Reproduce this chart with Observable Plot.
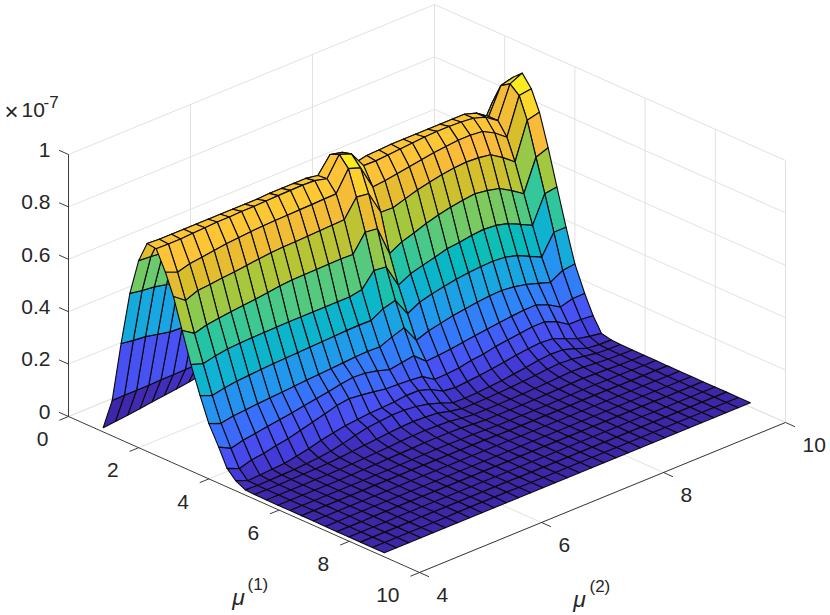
<!DOCTYPE html>
<html>
<head>
<meta charset="utf-8">
<script src="https://cdn.jsdelivr.net/npm/d3@7"></script>
<script src="https://cdn.jsdelivr.net/npm/@observablehq/plot@0.6"></script>
<style>
html,body{margin:0;padding:0;background:#fff}
svg{display:block}
</style>
</head>
<body>
<div id="chart"></div>
<script>
// Surface sample positions
const mu1 = [.85,1.105,1.36,1.61,1.86,2.10,2.36,2.62,2.85,3.10,3.35,3.61,3.86,4.14,4.38,4.62,4.90,5.16,5.5,5.83,6.17,6.5,6.84,7.18,7.51,7.85,8.18,8.52,8.86];
const mu2 = [4.08,4.28,4.48,4.68,4.88,5.08,5.28,5.48,5.68,5.88,6.08,6.28,6.48,6.68,6.88,7.08,7.28,7.48,7.68,7.88,8.08,8.28,8.48,8.68,8.88,9.08,9.28,9.48,9.68,9.88,10.08];
// Height in units of 1e-10; one line per mu2 value, one column per mu1 value
const heights = [
[0,119,352,558,698,778,773,700,620,505,390,287,195,122,55,23,4,2,1,1,1,1,1,0,0,0,0,0,0],
[5,120,345,550,695,775,772,680,586,475,374,268,177,98,35,3,2,1,1,1,1,1,1,0,0,0,0,0,0],
[10,120,340,545,690,775,772,693,605,488,385,278,186,110,49,6,3,1,1,1,1,1,1,1,0,0,0,0,0],
[15,120,330,535,685,775,775,699,609,495,392,285,190,117,55,9,4,2,1,1,1,1,1,1,1,0,0,0,0],
[22,122,320,525,680,775,777,706,614,500,395,288,194,124,65,12,5,3,2,1,1,1,1,1,1,1,0,0,0],
[28,122,317,520,680,775,780,712,618,505,397,291,197,131,73,20,8,4,2,1,1,1,1,1,1,1,1,0,0],
[33,123,317,520,680,775,780,716,624,510,398,294,200,138,85,30,12,6,3,2,1,2,1,1,1,1,1,0,0],
[40,124,317,520,680,775,782,720,630,516,399,296,204,146,98,42,18,9,5,3,2,2,1,1,1,1,1,1,0],
[48,125,318,520,680,775,782,723,634,522,400,298,208,154,110,52,28,13,7,4,2,2,2,1,1,1,1,1,0],
[50,125,320,520,680,775,784,725,637,526,400,300,211,162,123,60,40,18,10,6,3,3,2,1,1,1,1,1,0],
[50,125,320,520,680,778,785,726,638,527,400,302,214,171,130,65,50,22,12,7,4,3,2,1,1,1,1,1,0],
[50,125,320,520,680,778,786,727,640,528,400,304,217,178,125,70,55,27,15,8,5,3,2,1,1,1,1,1,0],
[50,125,320,520,680,778,787,728,642,529,400,306,220,175,118,72,60,30,17,10,6,3,2,1,1,1,1,0,0],
[50,125,320,520,680,778,785,730,644,530,400,307,222,165,110,75,60,32,18,10,6,3,2,1,1,1,0,0,0],
[50,125,325,525,690,770,773,731,646,528,408,306,220,150,108,80,55,30,17,10,5,3,2,1,1,1,0,0,0],
[50,130,350,580,750,831,847,808,713,594,463,332,239,158,105,80,45,26,15,9,5,3,2,1,1,1,0,0,0],
[45,128,345,570,745,820,830,792,707,588,457,345,255,165,100,65,30,14,8,5,3,2,2,1,1,1,0,0,0],
[45,125,320,520,680,760,766,700,617,474,368,275,188,125,70,40,12,5,3,2,1,1,1,1,1,1,0,0,0],
[45,125,320,520,685,770,765,705,615,500,393,300,205,128,72,34,10,5,3,2,1,1,1,1,1,1,0,0,0],
[45,125,320,520,685,772,768,712,630,515,406,312,215,133,76,38,12,6,3,2,1,1,1,1,1,1,0,0,0],
[45,125,320,520,685,775,772,720,645,532,418,322,225,140,85,42,16,8,4,2,1,1,1,1,1,1,0,0,0],
[45,125,320,520,685,775,776,728,655,545,431,330,232,146,90,48,20,10,5,3,1,1,1,1,1,1,0,0,0],
[45,125,320,520,685,775,780,735,665,556,436,336,238,152,100,55,26,13,7,4,2,1,1,1,1,1,0,0,0],
[45,125,320,520,685,775,782,740,672,563,444,340,243,158,106,62,32,17,9,5,3,2,1,1,1,1,0,0,0],
[45,125,320,520,685,775,782,745,675,569,448,342,245,163,112,68,40,22,12,7,4,2,1,1,1,1,0,0,0],
[40,125,320,520,685,775,780,745,672,562,444,338,240,167,118,72,44,25,14,8,4,2,1,1,1,0,0,0,0],
[40,125,320,520,685,775,775,740,665,551,432,325,230,168,118,68,42,22,12,6,3,1,1,1,1,0,0,0,0],
[35,125,320,520,680,760,760,715,635,524,410,303,215,150,100,50,28,14,8,4,3,1,1,1,0,0,0,0,0],
[30,125,320,510,660,728,728,680,599,493,387,281,200,122,70,30,10,6,4,2,2,1,1,0,0,0,0,0,0],
[25,135,370,600,750,827,849,820,739,613,489,357,226,135,70,20,5,3,2,1,1,1,0,0,0,0,0,0,0],
[20,140,380,610,755,840,871,827,751,630,495,357,232,136,65,12,4,2,1,1,1,0,0,0,0,0,0,0,0]
];
// Axis ticks
const ticksMu1 = [0,2,4,6,8,10];
const ticksMu2 = [4,6,8,10];
const ticksZ = [0,.2,.4,.6,.8,1];
// Parula colour stops
const parula = ["#3e26a8","#453dde","#4852f4","#3a6efc","#2d87f7","#1e9ee8","#12b1d6","#05bbbd","#37c897","#75ca63","#abc739","#dcbd2a","#fdbb3c","#fbd02f","#f9fb14"];
const ink = "#262626", gridInk = "#e2e2e2", font = "Liberation Sans";

// Orthographic view of the box
const view = {u1:[35.1,15.6], u2:[61,-25], uz:262, o:[68,416]};
const px = (a,b) => view.o[0] + view.u1[0]*a + view.u2[0]*(b-4);
const py = (a,b,c) => view.o[1] + view.u1[1]*a + view.u2[1]*(b-4) - view.uz*c;
const seg = (p,q) => ({x1:px(...p),y1:py(...p),x2:px(...q),y2:py(...q)});

// Faces, far to near, so near ones paint over far ones
const faces = [];
mu1.slice(0,-1).forEach((_,i) => {
  for (let j = mu2.length-2; j >= 0; j--) {
    const v = heights[j][i]/1000, id = i*100+j;
    [[i,j],[i+1,j],[i+1,j+1],[i,j+1],[i,j]].forEach(([a,b]) => {
      const c = heights[b][a]/1000;
      faces.push({id, v, x:px(mu1[a],mu2[b]), y:py(mu1[a],mu2[b],c)});
    });
  }
});

const grid = [];
ticksZ.forEach(z => { grid.push(seg([0,4,z],[0,10,z]), seg([0,10,z],[10,10,z])); });
[6,8,10].forEach(m => grid.push(seg([0,m,0],[0,m,1]), seg([0,m,0],[10,m,0])));
[0,2,4,6,8,10].forEach(m => grid.push(seg([m,10,0],[m,10,1]), seg([m,4,0],[m,10,0])));

const axes = [seg([0,4,0],[10,4,0]), seg([10,4,0],[10,10,0]), seg([0,4,0],[0,4,1])];
ticksMu1.forEach(m => axes.push(seg([m,4,0],[m,3.85,0])));
ticksMu2.forEach(m => axes.push(seg([10,m,0],[10.27,m,0])));
ticksZ.forEach(z => axes.push(seg([0,4,z],[-.27,4,z])));

const textStyle = {fontFamily:font, fill:ink, fontSize:21};
const chart = Plot.plot({
  width:830, height:615, margin:0,
  x:{domain:[0,830], axis:null},
  y:{domain:[615,0], axis:null},
  color:{type:"linear", domain:[0,.871], interpolate:d3.piecewise(d3.interpolateRgb, parula)},
  marks:[
    Plot.link(grid,{x1:"x1",y1:"y1",x2:"x2",y2:"y2",stroke:gridInk,strokeWidth:1}),
    Plot.link(axes,{x1:"x1",y1:"y1",x2:"x2",y2:"y2",stroke:ink,strokeWidth:.9}),
    Plot.line(faces,{x:"x",y:"y",z:"id",fill:"v",stroke:"#0c0c0c",strokeWidth:1.15,strokeLinejoin:"round"}),
    Plot.text(ticksZ,{x:()=>50,y:z=>py(0,4,z),dy:-4.5,text:z=>String(z),textAnchor:"end",...textStyle}),
    Plot.text(ticksMu1,{x:m=>px(m,4),y:m=>py(m,4,0),dx:-20,dy:23,text:String,textAnchor:"end",...textStyle}),
    Plot.text(ticksMu2,{x:m=>px(10,m),y:m=>py(10,m,0),dx:17,dy:23,text:String,textAnchor:"start",...textStyle}),
    Plot.text(["×"],{x:()=>11,y:()=>112,text:d=>d,textAnchor:"middle",...textStyle,fontSize:24}),
    Plot.text(["10"],{x:()=>21,y:()=>110,text:d=>d,textAnchor:"start",...textStyle}),
    Plot.text(["-7"],{x:()=>43,y:()=>102,text:d=>d,textAnchor:"start",...textStyle,fontSize:17}),
    Plot.text(["μ"],{x:()=>238,y:()=>597,text:d=>d,textAnchor:"middle",...textStyle,fontSize:23,fontStyle:"italic"}),
    Plot.text(["(1)"],{x:()=>247,y:()=>584,text:d=>d,textAnchor:"start",...textStyle,fontSize:17}),
    Plot.text(["μ"],{x:()=>579,y:()=>599,text:d=>d,textAnchor:"middle",...textStyle,fontSize:23,fontStyle:"italic"}),
    Plot.text(["(2)"],{x:()=>589,y:()=>586,text:d=>d,textAnchor:"start",...textStyle,fontSize:17})
  ]
});
document.getElementById("chart").append(chart);
</script>
</body>
</html>
